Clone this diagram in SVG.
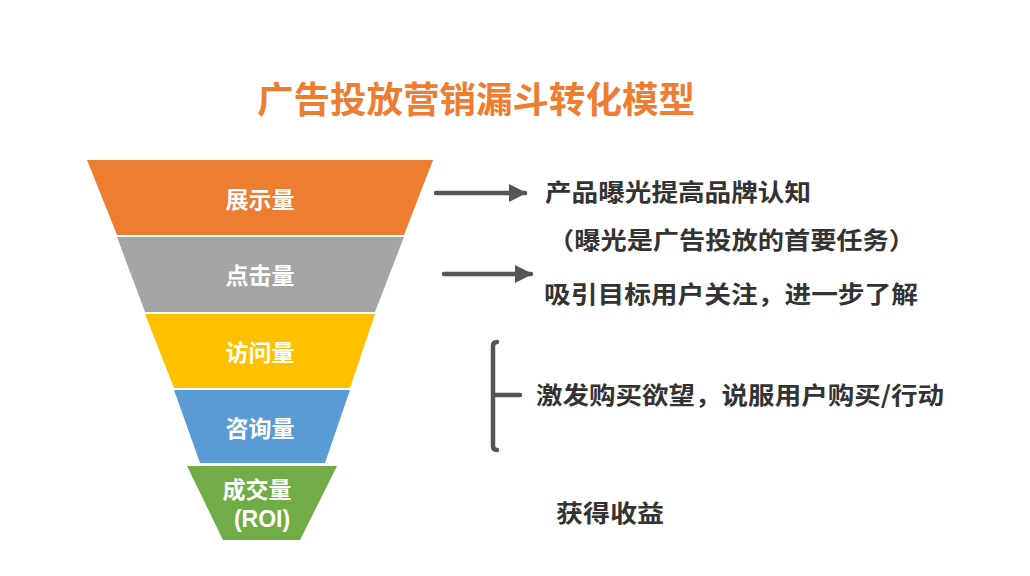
<svg xmlns="http://www.w3.org/2000/svg" width="1030" height="576" viewBox="0 0 1030 576">
<defs>
<style>
.t{font-family:"Noto Sans CJK SC","Noto Sans",sans-serif;font-weight:bold;dominant-baseline:central}
.seg{fill:#fff;font-size:23px;text-anchor:middle}
.note{fill:#333;font-size:24px}
.ln{stroke:#555;stroke-width:4.5;fill:none;stroke-linecap:round}
</style>
<marker id="ah" viewBox="0 0 10 10" refX="9" refY="5" markerWidth="4" markerHeight="4" orient="auto" markerUnits="strokeWidth">
<path d="M0,0 L10,5 L0,10 z" fill="#555"/>
</marker>
</defs>
<rect width="1030" height="576" fill="#fff"/>
<text class="t" x="476" y="97" font-size="36" fill="#ED7D31" text-anchor="middle" textLength="438" lengthAdjust="spacingAndGlyphs">广告投放营销漏斗转化模型</text>

<g id="n1"><polygon points="87,160 433,160 404,235 117,235" fill="#ED7D31"/><text class="t seg" x="260" y="198">展示量</text></g>
<g id="n2"><polygon points="117,237 404,237 375,312 145,312" fill="#A5A5A5"/><text class="t seg" x="260" y="274">点击量</text></g>
<g id="n3"><polygon points="145,314 375,314 350,388 174,388" fill="#FFC000"/><text class="t seg" x="260" y="351">访问量</text></g>
<g id="n4"><polygon points="174,390 350,390 325,463 200,463" fill="#5B9BD5"/><text class="t seg" x="260" y="427">咨询量</text></g>
<g id="n5"><polygon points="187,466 337,466 300,540 223,540" fill="#70AD47"/><text class="t seg" x="257" y="488" font-size="24">成交量</text><text class="seg" x="262" y="527" font-size="25" font-family="Liberation Sans, Arial, sans-serif" font-weight="bold">(ROI)</text></g>

<g id="connectors">
<line class="ln" x1="436" y1="193" x2="525" y2="193" marker-end="url(#ah)"/>
<line class="ln" x1="444" y1="274" x2="531" y2="274" marker-end="url(#ah)"/>
<path class="ln" d="M497,342 Q493,342 493,346 L493,446 Q493,450 497,450 M493,395 L520,395"/>
</g>

<g id="notes">
<text class="t note" x="545" y="190" textLength="266" lengthAdjust="spacingAndGlyphs">产品曝光提高品牌认知</text>
<text class="t note" x="548" y="238" textLength="367" lengthAdjust="spacingAndGlyphs">（曝光是广告投放的首要任务）</text>
<text class="t note" x="544" y="292" textLength="374" lengthAdjust="spacingAndGlyphs">吸引目标用户关注，进一步了解</text>
<text class="t note" x="536" y="393" textLength="408" lengthAdjust="spacingAndGlyphs">激发购买欲望，说服用户购买/行动</text>
<text class="t note" x="556" y="511" textLength="108" lengthAdjust="spacingAndGlyphs">获得收益</text>
</g>
</svg>
